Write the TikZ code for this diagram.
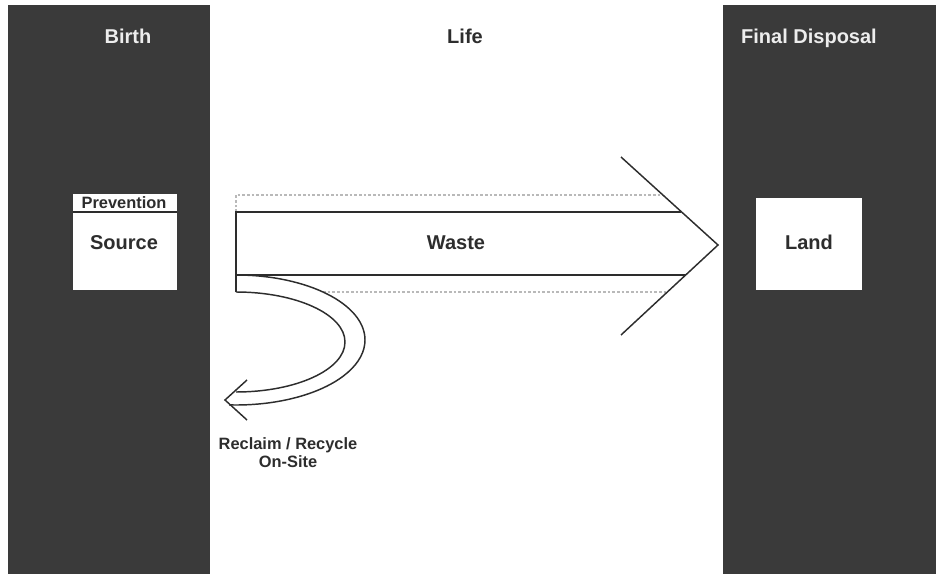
\documentclass[tikz,border=0pt]{standalone}
\usepackage{fontspec}
\setmainfont{Liberation Sans}
\definecolor{panel}{RGB}{58,58,58}
\definecolor{ink}{RGB}{45,45,45}
\begin{document}
\begin{tikzpicture}[x=0.75pt, y=-0.75pt,
  big/.style={font=\fontsize{15}{18}\selectfont\bfseries, anchor=base, inner sep=0pt},
  small/.style={font=\fontsize{12.3}{15}\selectfont\bfseries, anchor=base, inner sep=0pt},
  band/.style={draw=ink, line width=1.1pt},
  ghost/.style={draw=gray!55, line width=0.8pt, dash pattern=on 2pt off 1.5pt}]
  \useasboundingbox (0,0) rectangle (936,574);
  % birth and final disposal
  \fill[panel] (8,5) rectangle (210,574);
  \fill[panel] (723,5) rectangle (936,574);
  \foreach \x/\c/\n/\t in {128/white!93!black/birth/Birth, 465/ink/life/Life, 809/white!93!black/final/Final Disposal}
    \node[big, text=\c] (\n) at (\x,44) {\t};
  % source and land boxes
  \fill[white] (73,194) rectangle (177,290);
  \draw[ink, line width=0.9pt] (73,212) -- (177,212);
  \node[small, text=ink] (prevention) at (124,209) {Prevention};
  \node[big, text=ink] (source) at (124,250) {Source};
  \fill[white] (756,198) rectangle (862,290);
  \node[big, text=ink] (land) at (809,250) {Land};
  % waste arrow
  \coordinate (tip) at (718,245);
  \draw[ghost] (236,212) -- (236,195) -- (663,195);
  \draw[ghost] (323,292) -- (667,292);
  \draw[band] (681,212) -- (236,212) -- (236,292);
  \draw[band] (236,275) -- (686,275);
  \draw[band] (621,157) -- (tip) -- (621,335);
  \node[big, text=ink] (waste) at (456,250) {Waste};
  % reclaim / recycle loop
  \coordinate (back) at (225,400);
  \draw[band] (236,275) arc[start angle=-90, end angle=93, x radius=129, y radius=65];
  \draw[band] (236,292) arc[start angle=-90, end angle=90, x radius=109, y radius=50];
  \draw[band] (247,380) -- (back) -- (247,420);
  \node[small, text=ink] (reclaim) at (288,449) {Reclaim / Recycle};
  \node[small, text=ink] (onsite) at (288,467) {On-Site};
\end{tikzpicture}
\end{document}
